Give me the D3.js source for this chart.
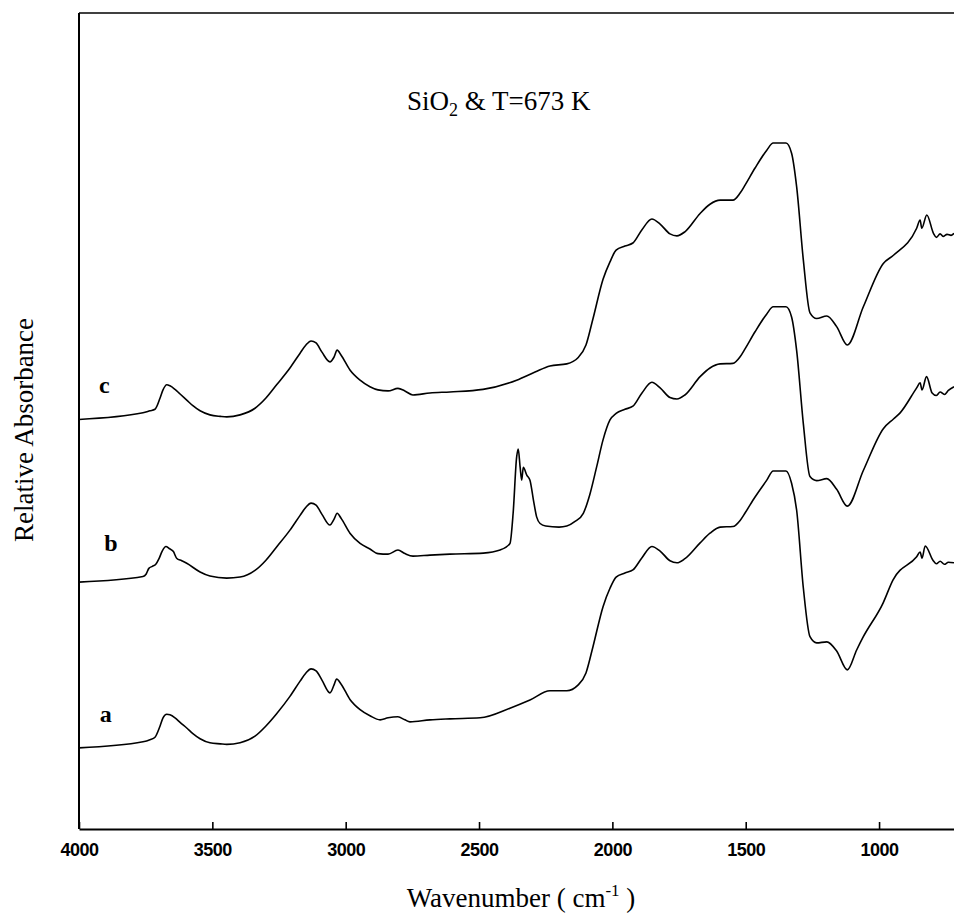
<!DOCTYPE html>
<html>
<head>
<meta charset="utf-8">
<script src="https://cdn.jsdelivr.net/npm/d3@7/dist/d3.min.js"></script>
<style>
  html, body { margin: 0; padding: 0; background: #fff; }
  svg { display: block; }
</style>
</head>
<body>
<svg id="chart" width="954" height="919"></svg>
<script>
// FTIR spectra, SiO2 at 673 K — wavenumber (cm-1) vs relative absorbance (stacked)
const seriesNames = ["a", "b", "c"];

const wavenumberA = [4000,3760,3734,3715,3696,3685,3671,3659,3640,3621,3596,3573,3546,3509,3470,3446,3396,3340,3299,3259,3209,3171,3149,3130,3111,3089,3059,3044,3034,3017,2984,2946,2909,2871,2841,2804,2778,2759,2684,2609,2496,2384,2309,2234,2171,2129,2099,2073,2035,2009,1986,1953,1923,1889,1852,1821,1784,1758,1728,1671,1634,1596,1548,1521,1502,1465,1421,1397,1349,1328,1309,1284,1259,1234,1196,1159,1119,1084,1060,985,948,859,846,839,827,798,785,771,755,740,719];
const absorbanceA = [0.159,0.171,0.175,0.180,0.202,0.218,0.225,0.224,0.218,0.209,0.198,0.187,0.177,0.169,0.167,0.166,0.169,0.182,0.202,0.226,0.260,0.290,0.306,0.314,0.310,0.292,0.267,0.282,0.294,0.284,0.254,0.234,0.222,0.214,0.218,0.220,0.214,0.210,0.214,0.216,0.218,0.237,0.253,0.271,0.271,0.282,0.306,0.357,0.436,0.472,0.494,0.502,0.508,0.532,0.554,0.545,0.526,0.522,0.530,0.561,0.580,0.592,0.593,0.605,0.620,0.651,0.684,0.702,0.702,0.678,0.625,0.473,0.377,0.365,0.367,0.349,0.312,0.351,0.376,0.443,0.488,0.534,0.543,0.531,0.555,0.527,0.520,0.525,0.519,0.523,0.522];

const wavenumberB = [4000,3760,3748,3738,3725,3712,3700,3688,3674,3662,3646,3634,3615,3596,3546,3509,3446,3396,3340,3299,3259,3209,3171,3149,3130,3111,3089,3059,3044,3032,3017,2984,2946,2909,2879,2841,2804,2778,2748,2684,2609,2484,2421,2384,2372,2359,2353,2346,2340,2334,2321,2309,2296,2284,2271,2250,2200,2171,2140,2109,2085,2059,2035,2009,1986,1953,1923,1889,1852,1821,1784,1758,1728,1671,1634,1596,1548,1521,1502,1465,1421,1397,1349,1328,1309,1284,1259,1234,1196,1159,1119,1059,984,946,921,859,846,839,822,801,785,771,755,740,719];
const absorbanceB = [0.484,0.495,0.500,0.511,0.515,0.519,0.530,0.545,0.554,0.550,0.544,0.531,0.526,0.521,0.504,0.496,0.492,0.494,0.507,0.527,0.553,0.586,0.615,0.631,0.639,0.635,0.617,0.596,0.607,0.619,0.609,0.580,0.560,0.549,0.540,0.539,0.547,0.540,0.535,0.537,0.539,0.541,0.547,0.560,0.620,0.729,0.745,0.710,0.684,0.709,0.694,0.684,0.645,0.612,0.599,0.594,0.592,0.594,0.603,0.619,0.655,0.710,0.763,0.802,0.815,0.823,0.829,0.855,0.876,0.865,0.846,0.843,0.851,0.887,0.904,0.912,0.913,0.926,0.942,0.975,1.010,1.024,1.024,1.004,0.938,0.795,0.691,0.683,0.687,0.666,0.633,0.703,0.785,0.804,0.816,0.865,0.875,0.861,0.887,0.855,0.850,0.857,0.852,0.860,0.867];

const wavenumberC = [4000,3760,3734,3715,3696,3685,3671,3659,3640,3621,3596,3573,3546,3509,3470,3446,3396,3340,3299,3259,3209,3171,3149,3130,3111,3089,3059,3044,3032,3017,2984,2946,2909,2879,2841,2804,2778,2748,2684,2609,2485,2359,2290,2234,2171,2129,2099,2073,2035,2009,1986,1953,1923,1889,1852,1821,1784,1758,1728,1671,1634,1596,1548,1521,1502,1465,1421,1397,1349,1328,1309,1284,1259,1234,1196,1159,1119,1059,984,946,859,846,840,821,796,785,771,760,745,730,719];
const absorbanceC = [0.803,0.816,0.820,0.823,0.845,0.861,0.871,0.869,0.862,0.853,0.841,0.830,0.820,0.812,0.809,0.808,0.812,0.825,0.845,0.871,0.904,0.933,0.949,0.957,0.953,0.935,0.916,0.925,0.939,0.929,0.900,0.880,0.867,0.861,0.859,0.864,0.859,0.851,0.855,0.857,0.862,0.880,0.896,0.908,0.912,0.924,0.949,1.000,1.078,1.112,1.135,1.143,1.149,1.175,1.196,1.186,1.167,1.163,1.171,1.207,1.225,1.233,1.233,1.247,1.263,1.296,1.331,1.345,1.345,1.325,1.259,1.116,1.012,1.001,1.006,0.985,0.949,1.024,1.109,1.125,1.178,1.194,1.178,1.204,1.168,1.160,1.167,1.162,1.166,1.164,1.168];

const xTicks = [4000, 3500, 3000, 2500, 2000, 1500, 1000];
const xDomain = [4000, 719];
const yDomain = [0, 1.6];

const series = [
  { name: "a", w: wavenumberA, v: absorbanceA, labelW: 3900, labelV: 0.21 },
  { name: "b", w: wavenumberB, v: absorbanceB, labelW: 3880, labelV: 0.545 },
  { name: "c", w: wavenumberC, v: absorbanceC, labelW: 3905, labelV: 0.855 }
];

const svg = d3.select("#chart");
const plotLeft = 79, plotRight = 954, plotTop = 13, plotBottom = 829;

const x = d3.scaleLinear().domain(xDomain).range([plotLeft, plotRight]);
const y = d3.scaleLinear().domain(yDomain).range([plotBottom, plotTop]);

// frame: left and top edges
svg.append("line").attr("x1", plotLeft).attr("x2", plotLeft).attr("y1", plotTop).attr("y2", plotBottom)
  .attr("stroke", "#000").attr("stroke-width", 2);
svg.append("line").attr("x1", plotLeft).attr("x2", plotRight).attr("y1", plotTop).attr("y2", plotTop)
  .attr("stroke", "#000").attr("stroke-width", 1.5);

// bottom axis with inward ticks
const xAxis = d3.axisBottom(x).tickValues(xTicks).tickSizeInner(-7).tickSizeOuter(0).tickPadding(14)
  .tickFormat(d3.format("d"));
const gx = svg.append("g").attr("transform", `translate(0,${plotBottom})`).call(xAxis);
gx.select(".domain").attr("stroke", "#000").attr("stroke-width", 2);
gx.selectAll(".tick line").attr("stroke", "#000").attr("stroke-width", 1.6);
gx.selectAll(".tick text")
  .attr("fill", "#000")
  .style("font-family", "'Liberation Sans', Arial, sans-serif")
  .style("font-weight", "bold")
  .style("font-size", "18px")
  .style("letter-spacing", "-0.5px");

// spectra
const line = d3.line()
  .x(d => x(d[0]))
  .y(d => y(d[1]))
  .curve(d3.curveMonotoneX);

series.forEach(s => {
  const pts = s.w.map((w, i) => [w, s.v[i]]);
  svg.append("path")
    .attr("d", line(pts))
    .attr("fill", "none")
    .attr("stroke", "#000")
    .attr("stroke-width", 1.6)
    .attr("stroke-linejoin", "round");
  svg.append("text")
    .attr("x", x(s.labelW))
    .attr("y", y(s.labelV))
    .attr("text-anchor", "middle")
    .style("font-family", "'Liberation Serif', 'Times New Roman', serif")
    .style("font-weight", "bold")
    .style("font-size", "24px")
    .text(s.name);
});

// in-plot title
const title = svg.append("text")
  .attr("x", 407).attr("y", 110)
  .style("font-family", "'Liberation Serif', 'Times New Roman', serif")
  .style("font-size", "27px");
title.append("tspan").text("SiO");
title.append("tspan").attr("dy", 6).style("font-size", "18px").text("2");
title.append("tspan").attr("dy", -6).text(" & T=673 K");

// axis titles
const xTitle = svg.append("text")
  .attr("x", 521).attr("y", 907)
  .attr("text-anchor", "middle")
  .style("font-family", "'Liberation Serif', 'Times New Roman', serif")
  .style("font-size", "27px");
xTitle.append("tspan").text("Wavenumber ( cm");
xTitle.append("tspan").attr("dy", -11).style("font-size", "17px").text("-1");
xTitle.append("tspan").attr("dy", 11).text(" )");

svg.append("text")
  .attr("transform", "translate(33,430) rotate(-90)")
  .attr("text-anchor", "middle")
  .style("font-family", "'Liberation Serif', 'Times New Roman', serif")
  .style("font-size", "27px")
  .text("Relative Absorbance");
</script>
</body>
</html>
